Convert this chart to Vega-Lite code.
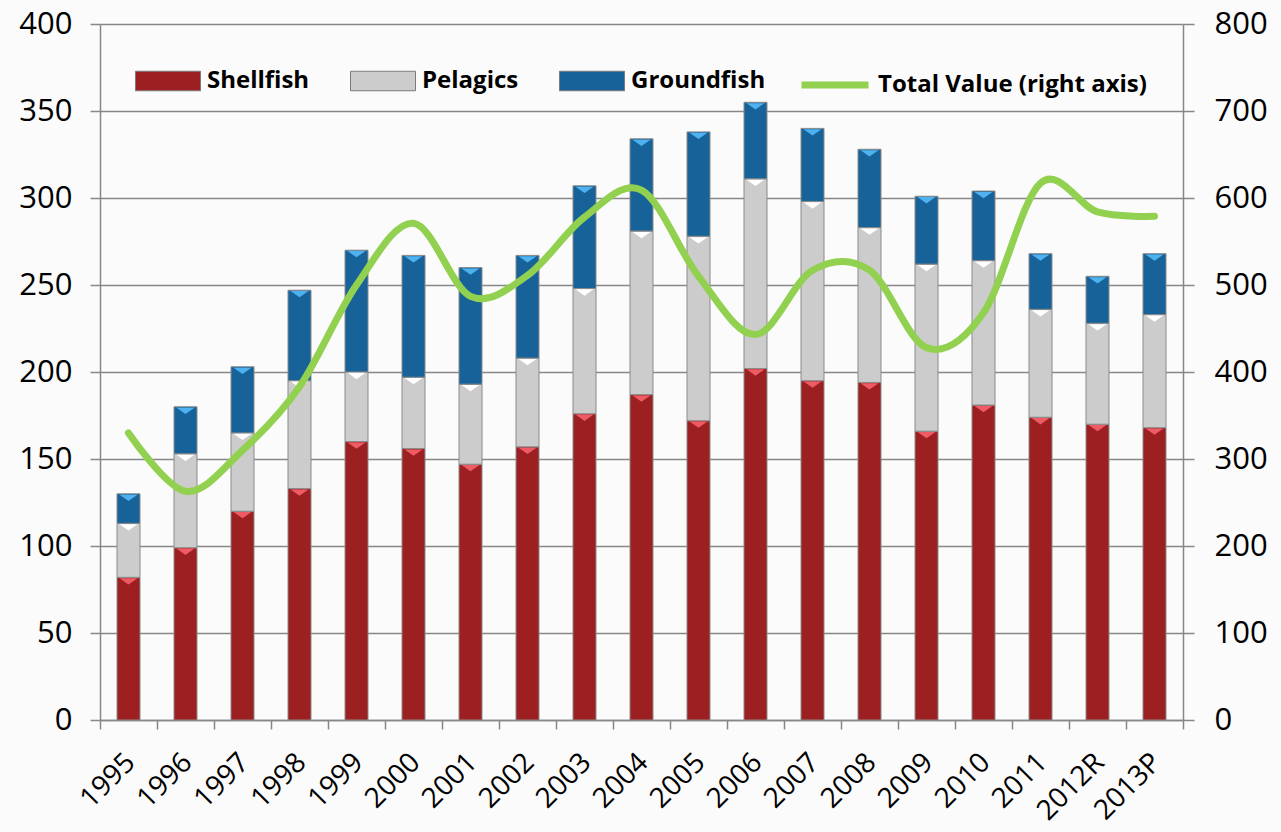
{
  "$schema": "https://vega.github.io/schema/vega-lite/v6.json",
  "width": 1083,
  "height": 696,
  "autosize": {"type": "none"},
  "padding": {"left": 100, "top": 24, "right": 98, "bottom": 112},
  "background": "#fbfbfb",
  "datasets": {
    "bars": [
      {"year": "1995", "type": "Shellfish", "value": 82},
      {"year": "1995", "type": "Pelagics", "value": 31},
      {"year": "1995", "type": "Groundfish", "value": 17},
      {"year": "1996", "type": "Shellfish", "value": 99},
      {"year": "1996", "type": "Pelagics", "value": 54},
      {"year": "1996", "type": "Groundfish", "value": 27},
      {"year": "1997", "type": "Shellfish", "value": 120},
      {"year": "1997", "type": "Pelagics", "value": 45},
      {"year": "1997", "type": "Groundfish", "value": 38},
      {"year": "1998", "type": "Shellfish", "value": 133},
      {"year": "1998", "type": "Pelagics", "value": 62},
      {"year": "1998", "type": "Groundfish", "value": 52},
      {"year": "1999", "type": "Shellfish", "value": 160},
      {"year": "1999", "type": "Pelagics", "value": 40},
      {"year": "1999", "type": "Groundfish", "value": 70},
      {"year": "2000", "type": "Shellfish", "value": 156},
      {"year": "2000", "type": "Pelagics", "value": 41},
      {"year": "2000", "type": "Groundfish", "value": 70},
      {"year": "2001", "type": "Shellfish", "value": 147},
      {"year": "2001", "type": "Pelagics", "value": 46},
      {"year": "2001", "type": "Groundfish", "value": 67},
      {"year": "2002", "type": "Shellfish", "value": 157},
      {"year": "2002", "type": "Pelagics", "value": 51},
      {"year": "2002", "type": "Groundfish", "value": 59},
      {"year": "2003", "type": "Shellfish", "value": 176},
      {"year": "2003", "type": "Pelagics", "value": 72},
      {"year": "2003", "type": "Groundfish", "value": 59},
      {"year": "2004", "type": "Shellfish", "value": 187},
      {"year": "2004", "type": "Pelagics", "value": 94},
      {"year": "2004", "type": "Groundfish", "value": 53},
      {"year": "2005", "type": "Shellfish", "value": 172},
      {"year": "2005", "type": "Pelagics", "value": 106},
      {"year": "2005", "type": "Groundfish", "value": 60},
      {"year": "2006", "type": "Shellfish", "value": 202},
      {"year": "2006", "type": "Pelagics", "value": 109},
      {"year": "2006", "type": "Groundfish", "value": 44},
      {"year": "2007", "type": "Shellfish", "value": 195},
      {"year": "2007", "type": "Pelagics", "value": 103},
      {"year": "2007", "type": "Groundfish", "value": 42},
      {"year": "2008", "type": "Shellfish", "value": 194},
      {"year": "2008", "type": "Pelagics", "value": 89},
      {"year": "2008", "type": "Groundfish", "value": 45},
      {"year": "2009", "type": "Shellfish", "value": 166},
      {"year": "2009", "type": "Pelagics", "value": 96},
      {"year": "2009", "type": "Groundfish", "value": 39},
      {"year": "2010", "type": "Shellfish", "value": 181},
      {"year": "2010", "type": "Pelagics", "value": 83},
      {"year": "2010", "type": "Groundfish", "value": 40},
      {"year": "2011", "type": "Shellfish", "value": 174},
      {"year": "2011", "type": "Pelagics", "value": 62},
      {"year": "2011", "type": "Groundfish", "value": 32},
      {"year": "2012R", "type": "Shellfish", "value": 170},
      {"year": "2012R", "type": "Pelagics", "value": 58},
      {"year": "2012R", "type": "Groundfish", "value": 27},
      {"year": "2013P", "type": "Shellfish", "value": 168},
      {"year": "2013P", "type": "Pelagics", "value": 65},
      {"year": "2013P", "type": "Groundfish", "value": 35}
    ],
    "total": [
      {"year": "1995", "total": 330},
      {"year": "1996", "total": 263},
      {"year": "1997", "total": 310},
      {"year": "1998", "total": 383},
      {"year": "1999", "total": 500},
      {"year": "2000", "total": 571},
      {"year": "2001", "total": 487},
      {"year": "2002", "total": 511},
      {"year": "2003", "total": 578},
      {"year": "2004", "total": 609},
      {"year": "2005", "total": 510},
      {"year": "2006", "total": 443},
      {"year": "2007", "total": 517},
      {"year": "2008", "total": 517},
      {"year": "2009", "total": 428},
      {"year": "2010", "total": 468},
      {"year": "2011", "total": 617},
      {"year": "2012R", "total": 584},
      {"year": "2013P", "total": 579}
    ]
  },
  "config": {
    "view": {"stroke": null},
    "axis": {
      "labelFont": "Open Sans",
      "labelColor": "#000000",
      "domainColor": "#878787",
      "domainWidth": 1.5,
      "tickColor": "#878787",
      "tickWidth": 1.5,
      "gridColor": "#878787",
      "gridWidth": 1.5
    }
  },
  "encoding": {
    "x": {
      "field": "year",
      "type": "nominal",
      "sort": null,
      "scale": {"paddingInner": 0, "paddingOuter": 0},
      "axis": {
        "title": null,
        "labelAngle": -45,
        "labelFontSize": 28,
        "labelAlign": "right",
        "labelBaseline": "middle",
        "labelPadding": 29,
        "labelOffset": 2,
        "tickBand": "extent",
        "tickSize": 9,
        "grid": false
      }
    }
  },
  "layer": [
    {
      "data": {"name": "bars"},
      "encoding": {
        "y": {
          "field": "value",
          "type": "quantitative",
          "stack": "zero",
          "scale": {"domain": [0, 400]},
          "axis": {
            "title": null,
            "values": [0, 50, 100, 150, 200, 250, 300, 350, 400],
            "labelFontSize": 31,
            "labelPadding": 18,
            "tickSize": 10,
            "grid": true,
            "orient": "left"
          }
        },
        "order": {"field": "type", "sort": "descending"}
      },
      "layer": [
        {
          "mark": {"type": "bar", "size": 23, "stroke": "#8a8a8a", "strokeWidth": 1},
          "encoding": {
            "fill": {
              "field": "type",
              "type": "nominal",
              "sort": ["Shellfish", "Pelagics", "Groundfish"],
              "scale": {
                "domain": ["Shellfish", "Pelagics", "Groundfish"],
                "range": ["#9c1f22", "#cccccc", "#176399"]
              },
              "legend": {
                "title": null,
                "orient": "none",
                "direction": "horizontal",
                "legendX": 35,
                "legendY": 24,
                "symbolType": "M-1,-0.3H1V0.3H-1Z",
                "symbolSize": 4225,
                "symbolStrokeColor": "#7a7a7a",
                "symbolStrokeWidth": 1,
                "symbolOpacity": 1,
                "labelFont": "Open Sans",
                "labelFontWeight": "bold",
                "labelFontSize": 24,
                "labelColor": "#000000",
                "labelOffset": 6,
                "labelLimit": 400,
                "columnPadding": 38
              }
            }
          }
        },
        {
          "mark": {
            "type": "point",
            "shape": "M-1,-0.35L1,-0.35L0,0.35Z",
            "size": 324,
            "filled": true,
            "opacity": 1,
            "strokeWidth": 0,
            "yOffset": 4
          },
          "encoding": {
            "fill": {
              "field": "type",
              "type": "nominal",
              "scale": {
                "domain": ["Shellfish", "Pelagics", "Groundfish"],
                "range": ["#ef5b65", "#ffffff", "#4db2ef"]
              },
              "legend": null
            }
          }
        }
      ],
      "resolve": {"scale": {"fill": "independent"}}
    },
    {
      "data": {"name": "total"},
      "mark": {"type": "line", "interpolate": "cardinal", "tension": 0, "strokeWidth": 7, "strokeCap": "round"},
      "encoding": {
        "y": {
          "field": "total",
          "type": "quantitative",
          "scale": {"domain": [0, 800]},
          "axis": {
            "title": null,
            "orient": "right",
            "values": [0, 100, 200, 300, 400, 500, 600, 700, 800],
            "labelFontSize": 31,
            "labelPadding": 20,
            "tickSize": 11,
            "grid": false
          }
        },
        "stroke": {
          "datum": "Total Value (right axis)",
          "type": "nominal",
          "scale": {"range": ["#92d050"]},
          "legend": {
            "title": null,
            "orient": "none",
            "direction": "horizontal",
            "legendX": 698,
            "legendY": 24,
            "symbolType": "stroke",
            "symbolSize": 4489,
            "symbolStrokeWidth": 7,
            "labelFont": "Open Sans",
            "labelFontWeight": "bold",
            "labelFontSize": 24,
            "labelColor": "#000000",
            "labelOffset": 6,
            "labelLimit": 400
          }
        }
      }
    }
  ],
  "resolve": {"scale": {"y": "independent", "fill": "independent", "stroke": "independent"}}
}
